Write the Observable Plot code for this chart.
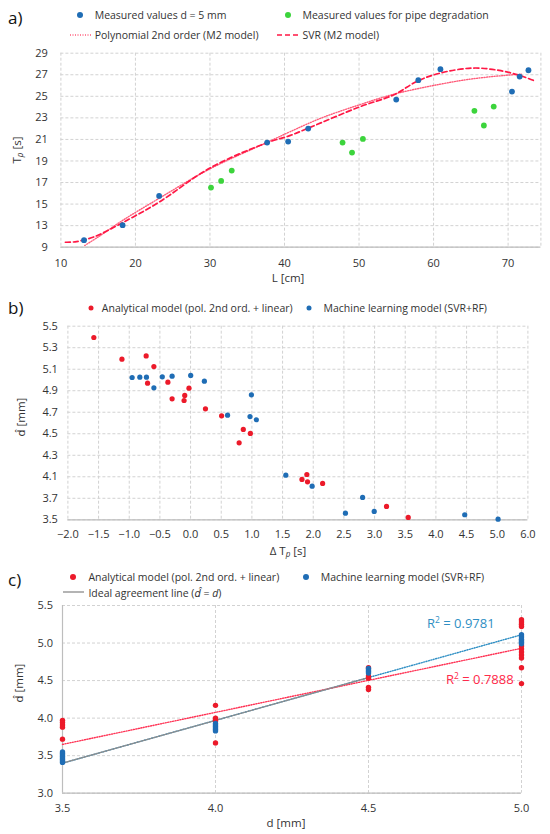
<!DOCTYPE html>
<html><head><meta charset="utf-8">
<script src="https://cdn.jsdelivr.net/npm/d3@7"></script>
<script src="https://cdn.jsdelivr.net/npm/@observablehq/plot@0.6"></script>
<style>
body{margin:0;background:#fff;font-family:"Open Sans",sans-serif;color:#333}
#root{position:relative;width:550px;height:834px;overflow:hidden;background:#fff}
.abs{position:absolute;white-space:nowrap;line-height:1}
.lg{font-size:10.5px;transform:translateY(-50%)}
.pl{font-size:17px;transform:translateY(-50%);color:#111}
.dot{position:absolute;width:6px;height:6px;border-radius:50%;transform:translate(-50%,-50%)}
.yt{font-size:11.5px;transform:translate(-50%,-50%) rotate(-90deg)}
.xt{font-size:11.5px;transform:translate(-50%,-50%)}
sub{font-size:0.7em;vertical-align:-0.25em;font-style:italic}
.dh{font-family:"DejaVu Sans",sans-serif;font-size:0.95em}
.plot{position:absolute;left:0}
.plot svg{overflow:visible}
</style>
</head><body><div id="root"></div>
<script>
// ---------- Panel a ----------
const aBlueL = [13.1,18.28,23.18,37.67,40.49,43.18,54.99,57.95,60.92,70.52,71.55,72.73];
const aBlueT = [11.65,13.04,15.76,20.71,20.8,22.01,24.7,26.5,27.52,25.44,26.83,27.42];
const aGreenL = [30.14,31.5,32.92,47.79,49.06,50.52,65.48,66.75,68.07];
const aGreenT = [16.53,17.15,18.11,20.71,19.78,21.05,23.65,22.29,24.05];
const aPolyL = [13.2,15,18.2,23.1,30,37.6,40.7,45,50,54.7,60.7,65.2,70.6,71.8];
const aPolyT = [11.16,11.95,13.45,15.5,18.27,20.7,21.7,23.0,24.2,25.2,26.1,26.62,27.0,27.05];
const aSvrL = [10.6,11.9,14.4,18.2,23.1,30,37.6,40.7,43.2,50,54.7,57.8,60.7,65.2,68.8,71.5,73.5];
const aSvrT = [11.46,11.5,11.95,13.25,15.15,18.35,20.68,21.35,22.05,24.0,25.15,26.4,27.12,27.62,27.4,26.95,26.45];
const aXDomain = [10,74.4];
const aYDomain = [11,29];
const aXTicks = [10,20,30,40,50,60,70];
const aYTicks = [11,13,15,17,19,21,23,25,27,29];
const aYTickLabels = ["9","13","15","17","19","21","23","25","27","29"];

// ---------- Panel b ----------
const bRedDT = [-1.577,-1.119,-0.724,-0.598,-0.701,-0.370,-0.026,-0.301,-0.095,-0.106,0.243,0.506,0.860,0.975,0.792,1.816,1.896,1.907,2.153,3.195,3.549];
const bRedD  = [5.395,5.193,5.224,5.125,4.97,4.98,4.924,4.825,4.856,4.809,4.732,4.667,4.54,4.503,4.416,4.075,4.121,4.053,4.038,3.824,3.722];
const bBlueDT = [-0.953,-0.827,-0.719,-0.598,-0.461,-0.301,0.002,0.225,0.992,0.603,0.969,1.072,1.553,1.982,2.805,2.525,2.994,4.47,5.014];
const bBlueD  = [5.023,5.026,5.026,4.927,5.029,5.035,5.042,4.989,4.862,4.673,4.66,4.63,4.115,4.013,3.908,3.762,3.778,3.747,3.706];
const bXDomain = [-2,5.5];
const bYDomain = [3.7,5.5];
const bXTicks = [-2,-1.5,-1,-0.5,0,0.5,1,1.5,2,2.5,3,3.5,4,4.5,5,5.5];
const bXTickLabels = ["−2.0","−1.5","−1.0","−0.5","0.0","0.5","1.0","1.5","2.0","2.5","3.0","3.5","4.0","4.5","5.0","6.0"];
const bYTicks = [3.7,3.9,4.1,4.3,4.5,4.7,4.9,5.1,5.3,5.5];
const bYTickLabels = ["3.5","3.7","4.1","4.3","4.5","4.7","4.9","5.1","5.3","5.5"];

// ---------- Panel c ----------
const cRedD = [3.5,3.5,3.5,3.5,3.5, 4,4,4,4,4, 4.5,4.5,4.5,4.5,4.5, 5,5,5,5,5,5,5,5,5,5,5];
const cRedV = [3.97,3.94,3.91,3.88,3.72, 4.17,4.00,3.98,3.96,3.67, 4.67,4.56,4.53,4.41,4.38, 5.31,5.28,5.25,5.22,4.96,4.92,4.88,4.84,4.80,4.67,4.46];
const cBlueD = [3.5,3.5,3.5,3.5,3.5,3.5,3.5,3.5, 4,4,4,4,4,4, 4.5,4.5,4.5,4.5, 5,5,5,5,5,5];
const cBlueV = [3.55,3.53,3.51,3.49,3.47,3.45,3.43,3.41, 3.93,3.91,3.89,3.87,3.85,3.83, 4.66,4.64,4.62,4.60, 5.11,5.08,5.05,5.03,5.01,4.99];
const cRedTrendD = [3.5,5.0], cRedTrendV = [3.65,4.93];
const cBlueTrendD = [3.5,5.0], cBlueTrendV = [3.40,5.11];
const cIdealD = [3.5,4.5], cIdealV = [3.40,4.54];
const cXDomain = [3.5,5.0];
const cYDomain = [3.0,5.5];
const cXTicks = [3.5,4.0,4.5,5.0];
const cYTicks = [3.0,3.5,4.0,4.5,5.0,5.5];
const cR2 = ["0.9781","0.7888"];

// ---------- helpers ----------
const zipXY = (xs, ys) => xs.map((x,i)=>({x, y: ys[i]}));
const grid = {stroke:"#d2d2d2", strokeOpacity:1, strokeDasharray:"3,2", strokeWidth:1};
const labelFrom = (ticks, labels) => { const m = new Map(ticks.map((t,i)=>[t,labels[i]])); return d => m.get(d); };
const root = document.getElementById("root");
function place(el, top){ const w=document.createElement("div"); w.className="plot"; w.style.top=top+"px"; w.appendChild(el); root.appendChild(w); }
function html(s){ root.insertAdjacentHTML("beforeend", s); }
const baseStyle = {fontFamily:"Open Sans", fontSize:"11px", color:"#333", background:"transparent", overflow:"visible"};
const DHAT = `<span class="dh">d&#770;</span>`;

const RED_A="#ff1744", POLY="#ff5c7a", BLUE="#1f6db5", GREEN="#3cd43c", RED="#ec1a2a", RTEAL="#2f8fc4";

// Panel a plot
place(Plot.plot({
  width:550, height:246, marginTop:8.7, marginBottom:43.3, marginLeft:60.4, marginRight:9.6,
  style: baseStyle,
  x:{domain:aXDomain, ticks:aXTicks, tickSize:0, tickPadding:12, label:null},
  y:{domain:aYDomain, ticks:aYTicks, tickSize:0, tickPadding:13, label:null, tickFormat: labelFrom(aYTicks,aYTickLabels)},
  marks:[
    Plot.gridX(aXTicks.concat([aXDomain[1]]), grid),
    Plot.gridY(aYTicks, grid),
    Plot.ruleY([aYDomain[0]], {stroke:"#bdbdbd", strokeWidth:1.2}),
    Plot.line(zipXY(aPolyL,aPolyT), {x:"x", y:"y", stroke:POLY, strokeWidth:1.4, strokeDasharray:"1,1.5", curve:"catmull-rom"}),
    Plot.line(zipXY(aSvrL,aSvrT), {x:"x", y:"y", stroke:RED_A, strokeWidth:1.7, strokeDasharray:"5,3", curve:"catmull-rom"}),
    Plot.dot(zipXY(aBlueL,aBlueT), {x:"x", y:"y", r:2.9, fill:BLUE}),
    Plot.dot(zipXY(aGreenL,aGreenT), {x:"x", y:"y", r:2.9, fill:GREEN})
  ]
}), 44);

// Panel b plot
place(Plot.plot({
  width:550, height:242, marginTop:7.7, marginBottom:40.7, marginLeft:67.4, marginRight:22.6,
  style: baseStyle,
  x:{domain:bXDomain, ticks:bXTicks, tickSize:0, tickPadding:10, label:null, tickFormat: labelFrom(bXTicks,bXTickLabels)},
  y:{domain:bYDomain, ticks:bYTicks, tickSize:0, tickPadding:10, label:null, tickFormat: labelFrom(bYTicks,bYTickLabels)},
  marks:[
    Plot.gridX(bXTicks, grid),
    Plot.gridY(bYTicks, grid),
    Plot.ruleY([bYDomain[0]], {stroke:"#bdbdbd", strokeWidth:1.2}),
    Plot.dot(zipXY(bRedDT,bRedD), {x:"x", y:"y", r:2.6, fill:RED}),
    Plot.dot(zipXY(bBlueDT,bBlueD), {x:"x", y:"y", r:2.6, fill:BLUE})
  ]
}), 318);

// Panel c plot
place(Plot.plot({
  width:550, height:234, marginTop:5, marginBottom:41.3, marginLeft:62, marginRight:29,
  style: baseStyle,
  x:{domain:cXDomain, ticks:cXTicks, tickSize:0, tickPadding:11, label:null, tickFormat: d3.format(".1f")},
  y:{domain:cYDomain, ticks:cYTicks, tickSize:0, tickPadding:9.5, label:null, tickFormat: d3.format(".1f")},
  marks:[
    Plot.gridX(cXTicks.slice(1), grid),
    Plot.gridY(cYTicks, grid),
    Plot.ruleY([cYDomain[0]], {stroke:"#bdbdbd", strokeWidth:1.2}),
    Plot.ruleX([cXDomain[0]], {stroke:"#bdbdbd", strokeWidth:1.2}),
    Plot.line(zipXY(cBlueTrendD,cBlueTrendV), {x:"x", y:"y", stroke:RTEAL, strokeWidth:1.4, strokeDasharray:"1,1.5"}),
    Plot.line(zipXY(cRedTrendD,cRedTrendV), {x:"x", y:"y", stroke:"#ff3355", strokeWidth:1.4, strokeDasharray:"1,1.5"}),
    Plot.line(zipXY(cIdealD,cIdealV), {x:"x", y:"y", stroke:"#8c8c8c", strokeWidth:1.2}),
    Plot.dot(zipXY(cRedD,cRedV), {x:"x", y:"y", r:2.7, fill:RED}),
    Plot.dot(zipXY(cBlueD,cBlueV), {x:"x", y:"y", r:2.7, fill:BLUE})
  ]
}), 600);

// ---------- HTML text: panel labels, legends, titles ----------
html(`<div class="abs pl" style="left:8px;top:17px">a)</div>`);
html(`<div class="dot" style="left:80.4px;top:15px;background:${BLUE}"></div>`);
html(`<div class="abs lg" style="left:94.7px;top:15px">Measured values d = 5 mm</div>`);
html(`<div class="dot" style="left:287.7px;top:15px;background:${GREEN}"></div>`);
html(`<div class="abs lg" style="left:302.5px;top:15px">Measured values for pipe degradation</div>`);
html(`<svg class="abs" style="left:70px;top:33px" width="21" height="4"><line x1="0" y1="2" x2="21" y2="2" stroke="${POLY}" stroke-width="1.4" stroke-dasharray="1,1.5"/></svg>`);
html(`<div class="abs lg" style="left:94.7px;top:34.7px">Polynomial 2nd order (M2 model)</div>`);
html(`<svg class="abs" style="left:277px;top:33px" width="21" height="4"><line x1="0" y1="2" x2="21" y2="2" stroke="${RED_A}" stroke-width="1.7" stroke-dasharray="5,3"/></svg>`);
html(`<div class="abs lg" style="left:302.5px;top:34.7px">SVR (M2 model)</div>`);
html(`<div class="abs yt" style="left:17.5px;top:150px">T<sub>p</sub> [s]</div>`);
html(`<div class="abs xt" style="left:288px;top:278px">L [cm]</div>`);

html(`<div class="abs pl" style="left:8px;top:307px">b)</div>`);
html(`<div class="dot" style="left:90.9px;top:308px;background:${RED};width:5px;height:5px"></div>`);
html(`<div class="abs lg" style="left:101.8px;top:308px">Analytical model (pol. 2nd ord. + linear)</div>`);
html(`<div class="dot" style="left:309px;top:308px;background:${BLUE};width:5px;height:5px"></div>`);
html(`<div class="abs lg" style="left:323.5px;top:308px">Machine learning model (SVR+RF)</div>`);
html(`<div class="abs yt" style="left:21px;top:417px">${DHAT} [mm]</div>`);
html(`<div class="abs xt" style="left:288px;top:552px">Δ T<sub>p</sub> [s]</div>`);

html(`<div class="abs pl" style="left:8px;top:579px">c)</div>`);
html(`<div class="dot" style="left:73.3px;top:576.7px;background:${RED}"></div>`);
html(`<div class="abs lg" style="left:88.4px;top:576.7px">Analytical model (pol. 2nd ord. + linear)</div>`);
html(`<div class="dot" style="left:305.6px;top:576.7px;background:${BLUE}"></div>`);
html(`<div class="abs lg" style="left:320.7px;top:576.7px">Machine learning model (SVR+RF)</div>`);
html(`<svg class="abs" style="left:63px;top:590.3px" width="21" height="4"><line x1="0" y1="2" x2="21" y2="2" stroke="#8c8c8c" stroke-width="1.3"/></svg>`);
html(`<div class="abs lg" style="left:88.4px;top:593px">Ideal agreement line (<i>${DHAT}</i> = <i>d</i>)</div>`);
html(`<div class="abs yt" style="left:19px;top:683px">${DHAT} [mm]</div>`);
html(`<div class="abs xt" style="left:286px;top:823px">d [mm]</div>`);
html(`<div class="abs" style="left:427px;top:623.3px;transform:translateY(-50%);font-size:13px;color:${RTEAL}">R<sup style="font-size:0.65em">2</sup> = ${cR2[0]}</div>`);
html(`<div class="abs" style="left:446px;top:679px;transform:translateY(-50%);font-size:13px;color:#ff2a4a">R<sup style="font-size:0.65em">2</sup> = ${cR2[1]}</div>`);
</script>
</body></html>
